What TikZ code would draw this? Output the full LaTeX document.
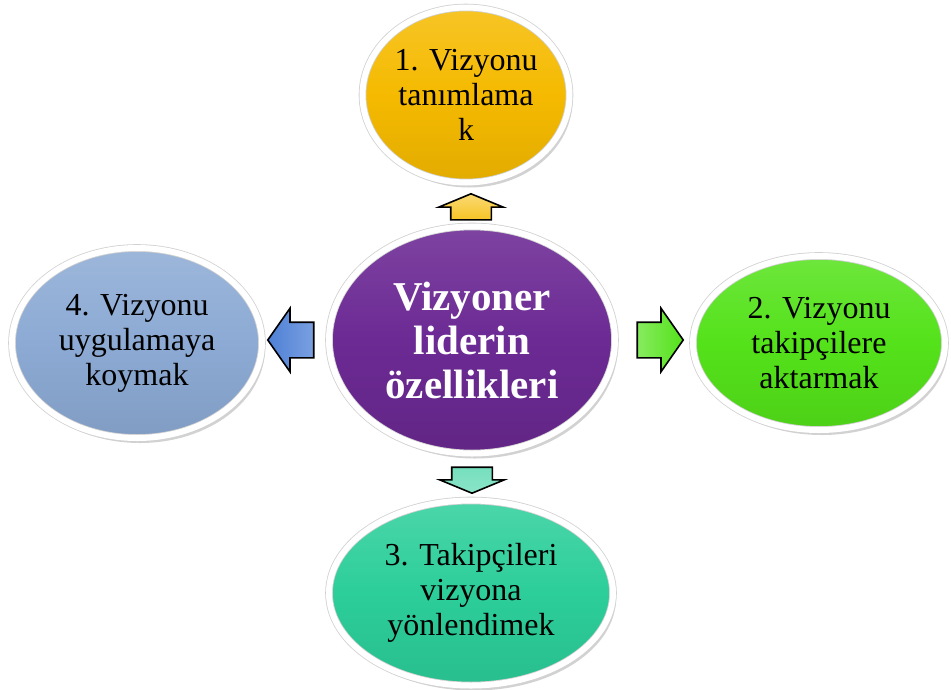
\documentclass[tikz,border=0pt]{standalone}
\usepackage{fontspec}
\setmainfont{Liberation Serif}
\usetikzlibrary{shapes.geometric,shapes.arrows,shadows}
\definecolor{liderpurple}{RGB}{108,42,148}
\definecolor{tanimyellow}{RGB}{245,186,0}
\definecolor{aktargreen}{RGB}{84,226,26}
\definecolor{yonteal}{RGB}{44,206,154}
\definecolor{koyblue}{RGB}{140,170,212}
\definecolor{arrowblue}{RGB}{78,128,214}

\begin{document}
\begin{tikzpicture}[x=1pt,y=-1pt,
    bubble/.style={ellipse, draw=black!18, line width=0.8pt, double=white, double distance=6pt,
      inner sep=0pt, align=center, font=\fontsize{32}{35}\selectfont,
      drop shadow={shadow xshift=3pt, shadow yshift=-5pt, opacity=0.25, fill=black!70}},
    vblock/.style={single arrow, draw=black, line width=1.6pt, inner xsep=19.5pt, inner ysep=0pt,
      minimum height=26pt, single arrow head extend=12pt, single arrow tip angle=135},
    hblock/.style={single arrow, draw=black, line width=1.6pt, inner xsep=0pt, inner ysep=17pt,
      minimum height=46pt, single arrow head extend=14pt, single arrow tip angle=110}
  ]
  \useasboundingbox (0,0) rectangle (951,689);

  % center
  \node[bubble, minimum width=286pt, minimum height=227pt,
    top color=liderpurple!88!white, bottom color=liderpurple!90!black, middle color=liderpurple,
    text=white, font=\fontsize{41}{44}\selectfont\bfseries]
    (lider) at (472,340) {Vizyoner\\liderin\\özellikleri};

  % the four steps
  \node[bubble, minimum width=207pt, minimum height=175pt,
    top color=tanimyellow!85!white, bottom color=tanimyellow!92!black, middle color=tanimyellow]
    (tanim) at (466,95) {1. Vizyonu\\tanımlama\\k};
  \node[bubble, minimum width=252pt, minimum height=174pt,
    top color=aktargreen!85!white, bottom color=aktargreen!92!black, middle color=aktargreen]
    (aktar) at (819,343) {2. Vizyonu\\takipçilere\\aktarmak};
  \node[bubble, minimum width=284pt, minimum height=185pt,
    top color=yonteal!85!white, bottom color=yonteal!92!black, middle color=yonteal]
    (yonlen) at (471,593) {3. Takipçileri\\vizyona\\yönlendimek};
  \node[bubble, minimum width=250pt, minimum height=190pt,
    top color=koyblue!85!white, bottom color=koyblue!92!black, middle color=koyblue]
    (koy) at (137,343) {4. Vizyonu\\uygulamaya\\koymak};

  % block arrows
  \node[vblock, shape border rotate=90, top color=tanimyellow!55!white, bottom color=tanimyellow!85!white]
    (arrTanim) at (471,211) {};
  \node[hblock, shape border rotate=0, left color=aktargreen!70!white, right color=aktargreen]
    (arrAktar) at (654,340) {};
  \node[vblock, shape border rotate=270, top color=yonteal!65!white, bottom color=yonteal!55!white]
    (arrYonlen) at (472,476) {};
  \node[hblock, shape border rotate=180, left color=arrowblue, right color=arrowblue!75!white]
    (arrKoy) at (297,340) {};
\end{tikzpicture}
\end{document}
